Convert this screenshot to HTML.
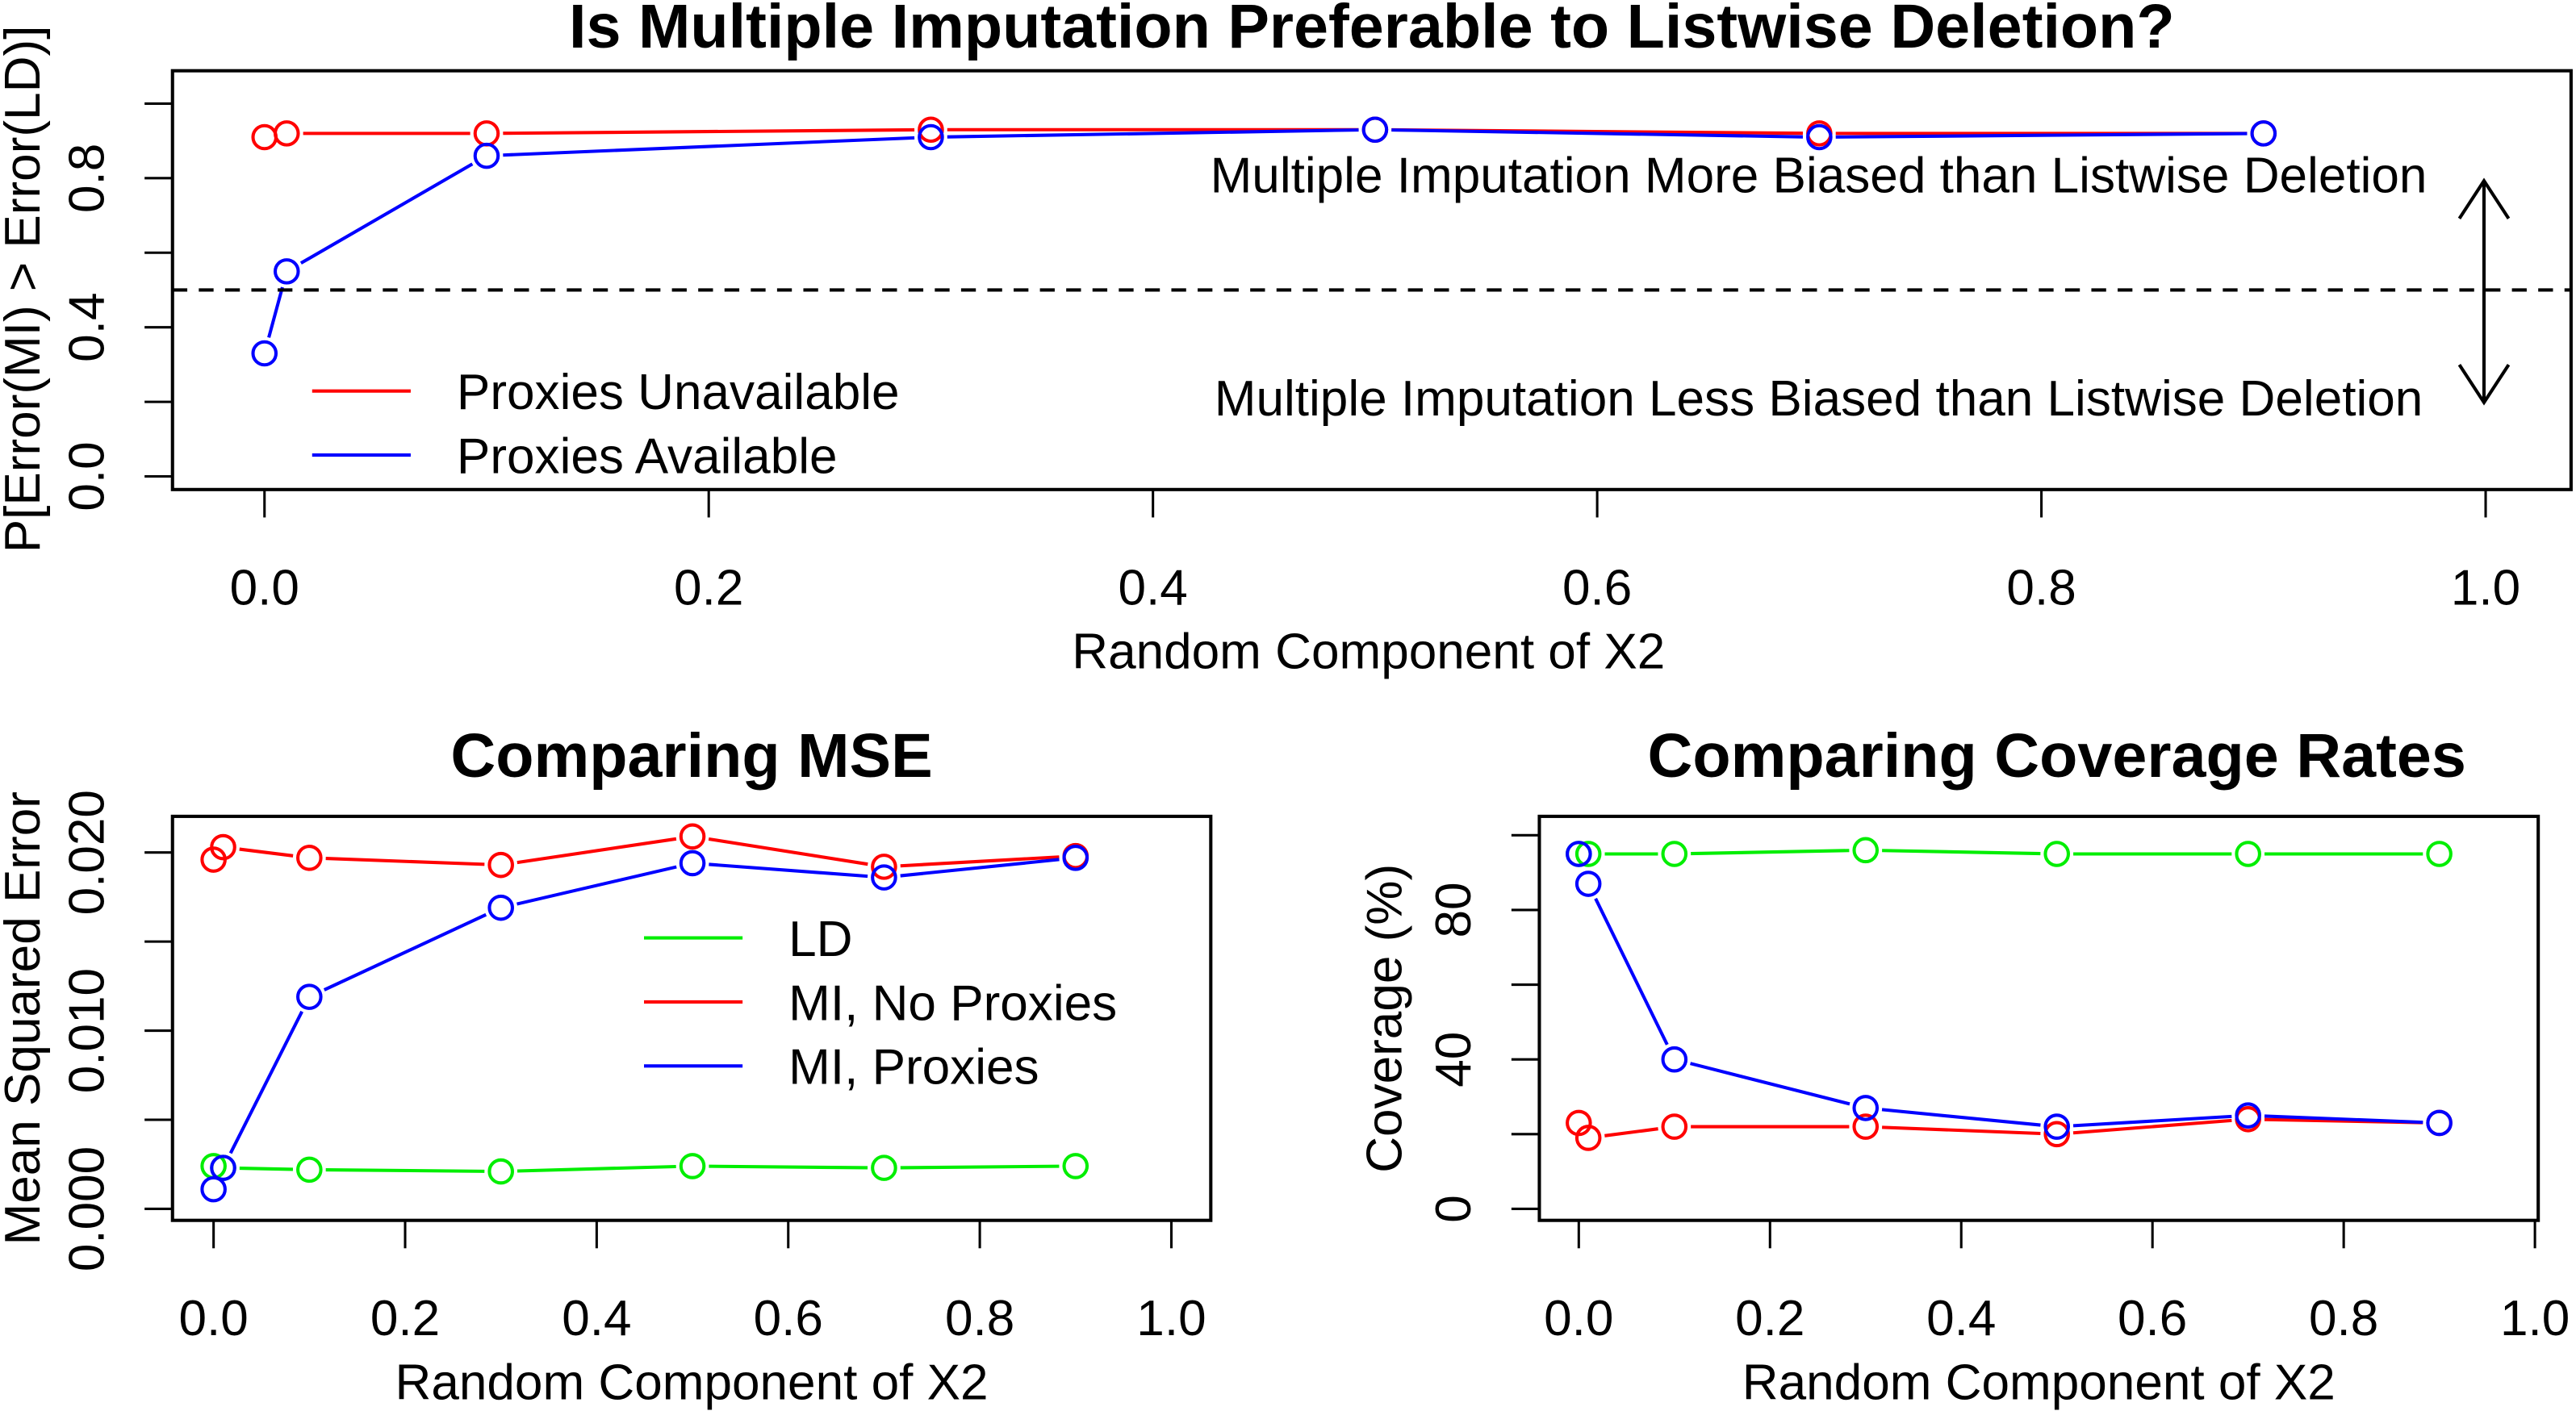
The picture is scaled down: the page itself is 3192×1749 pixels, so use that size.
<!DOCTYPE html>
<html><head><meta charset="utf-8"><style>
html,body{margin:0;padding:0;background:#fff}
svg{display:block}
text{font-family:"Liberation Sans",Arial,sans-serif;fill:#000}
</style></head><body>
<svg id="c" width="3192" height="1749" viewBox="0 0 1568 859" xmlns="http://www.w3.org/2000/svg"></svg>
<script>
const xVals=[0,0.01,0.1,0.3,0.5,0.7,0.9];
const topRed=[0.91,0.92,0.92,0.93,0.93,0.92,0.92];
const topBlue=[0.33,0.55,0.86,0.91,0.93,0.91,0.92];
const mseLD=[0.0024,0.0023,0.0022,0.0021,0.0024,0.0023,0.0024];
const mseNoProx=[0.0196,0.0203,0.0197,0.0193,0.0209,0.0192,0.0198];
const mseProx=[0.0011,0.0023,0.0119,0.0169,0.0194,0.0186,0.0197];
const covLD=[95,95,95,96,95,95,95];
const covProx=[95,87,40,27,22,25,23];
const covNoProx=[23,19,22,22,20,24,23];
const xTicks=[0,0.2,0.4,0.6,0.8,1.0];
const xTickLabels=["0.0","0.2","0.4","0.6","0.8","1.0"];

const FS=30.5, TFS=38;
const NS="http://www.w3.org/2000/svg";
const svg=document.getElementById('c');
function el(tag,attrs,parent){const e=document.createElementNS(NS,tag);for(const k in attrs)e.setAttribute(k,attrs[k]);(parent||svg).appendChild(e);return e;}
function txt(s,x,y,size,opts,parent){const t=el('text',Object.assign({x:x,y:y,'font-size':size,'text-anchor':'middle'},opts||{}),parent);t.textContent=s;return t;}

function panel(cfg){
  const g=el('g',{});
  
  
  const sx=v=>cfg.x0+(v-cfg.xmin)*(cfg.x1-cfg.x0)/(cfg.xmax-cfg.xmin);
  const sy=v=>cfg.y0+(v-cfg.ymin)*(cfg.y1-cfg.y0)/(cfg.ymax-cfg.ymin);
  const b=cfg.box;
  const r=el('rect',{x:b[0],y:b[1],width:b[2]-b[0],height:b[3]-b[1],fill:'none',stroke:'#000','stroke-width':2},g);
  
  
  const xa=el('g',{},g);
  
  
  el('line',{x1:sx(xTicks[0]),x2:sx(xTicks[xTicks.length-1]),y1:b[3],y2:b[3],stroke:'#000','stroke-width':1.5},xa);
  xTicks.forEach((t,i)=>{el('line',{x1:sx(t),x2:sx(t),y1:b[3],y2:b[3]+17,stroke:'#000','stroke-width':1.5},xa);
    const l=txt(xTickLabels[i],sx(t),b[3]+70,FS,{},xa);
    
    });
  const xl=txt('Random Component of X2',(b[0]+b[2])/2+cfg.xlOff,b[3]+109,FS,{},g);
  
  
  const ya=el('g',{},g);
  
  
  el('line',{x1:b[0],x2:b[0],y1:sy(cfg.yTicks[0]),y2:sy(cfg.yTicks[cfg.yTicks.length-1]),stroke:'#000','stroke-width':1.5},ya);
  cfg.yTicks.forEach((t,i)=>{el('line',{x1:b[0]-17,x2:b[0],y1:sy(t),y2:sy(t),stroke:'#000','stroke-width':1.5},ya);
    if(cfg.yLabels[i]){const yy=sy(t);const xx=b[0]-52;
      const l=txt(cfg.yLabels[i],xx,yy,FS,{transform:`rotate(-90 ${xx} ${yy})`,'dominant-baseline':'central'},ya);
      
      }});
  const yt=txt(cfg.ylab,cfg.ylx,cfg.yly,FS,{transform:`rotate(-90 ${cfg.ylx} ${cfg.yly})`},g);
  
  
  const ti=txt(cfg.title,cfg.tx,cfg.ty,TFS,{'font-weight':'bold'},g);
  
  
  cfg.series.forEach(s=>{
    const sg=el('g',{},g);
    
    
    const pts=xVals.map((x,i)=>[sx(x),sy(s.data[i])]);
    const R=7,gap=3;
    for(let i=0;i<pts.length-1;i++){const [ax,ay]=pts[i],[bx,by]=pts[i+1];const dx=bx-ax,dy=by-ay,d=Math.hypot(dx,dy);
      if(d>2*(R+gap)){const ux=dx/d,uy=dy/d;el('line',{x1:ax+ux*(R+gap),y1:ay+uy*(R+gap),x2:bx-ux*(R+gap),y2:by-uy*(R+gap),stroke:s.color,'stroke-width':2},sg);}}
    pts.forEach(p=>{const c=el('circle',{cx:p[0],cy:p[1],r:R,fill:'none',stroke:s.color,'stroke-width':2},sg);
      
      });
  });
  return {g,sx,sy};
}

const topP=panel({name:'top-chart',box:[105,43,1565,298],x0:161,x1:1513,xmin:0,xmax:1,y0:290,y1:63,ymin:0,ymax:1,
  yTicks:[0,0.2,0.4,0.6,0.8,1.0],yLabels:["0.0","","0.4","","0.8",""],
  ylab:'P[Error(MI) > Error(LD)]',ylx:24,yly:176,title:'Is Multiple Imputation Preferable to Listwise Deletion?',tx:835,ty:29,xlOff:-2,
  series:[{name:'series-proxies-unavailable',color:'#ff0000',data:topRed},{name:'series-proxies-available',color:'#0000ff',data:topBlue}]});
const dl=el('line',{x1:105,x2:1565,y1:topP.sy(0.5),y2:topP.sy(0.5),stroke:'#000','stroke-width':2,'stroke-dasharray':'9,7'},topP.g);


let a=txt('Multiple Imputation More Biased than Listwise Deletion',1107,117,FS,{},topP.g);


a=txt('Multiple Imputation Less Biased than Listwise Deletion',1107,253,FS,{},topP.g);


const ar=el('g',{fill:'none',stroke:'#000','stroke-width':2},topP.g);


el('line',{x1:1512,x2:1512,y1:110,y2:245},ar);el('polyline',{points:'1497,133 1512,110 1527,133'},ar);el('polyline',{points:'1497,222 1512,245 1527,222'},ar);
function legend(g,items,lx,tx,ys){items.forEach((it,i)=>{const lg=el('g',{},g);
  
  
  el('line',{x1:lx,x2:lx+60,y1:ys[i],y2:ys[i],stroke:it[1],'stroke-width':2},lg);txt(it[0],tx,ys[i]+11,FS,{'text-anchor':'start'},lg);});}
legend(topP.g,[['Proxies Unavailable','#ff0000'],['Proxies Available','#0000ff']],190,278,[238,277]);

const mse=panel({name:'mse-chart',box:[105,497,737,743],x0:130,x1:713,xmin:0,xmax:1,y0:736,y1:519,ymin:0,ymax:0.02,
  yTicks:[0,0.005,0.01,0.015,0.02],yLabels:["0.000","","0.010","","0.020"],ylab:'Mean Squared Error',ylx:24,yly:620,
  title:'Comparing MSE',tx:421,ty:473,xlOff:0,
  series:[{name:'series-ld',color:'#00ee00',data:mseLD},{name:'series-mi-no-proxies',color:'#ff0000',data:mseNoProx},{name:'series-mi-proxies',color:'#0000ff',data:mseProx}]});
legend(mse.g,[['LD','#00ee00'],['MI, No Proxies','#ff0000'],['MI, Proxies','#0000ff']],392,480,[571,610,649]);

const cov=panel({name:'coverage-chart',box:[937,497,1545,743],x0:961,x1:1543,xmin:0,xmax:1,y0:736,y1:554,ymin:0,ymax:80,
  yTicks:[0,20,40,60,80,100],yLabels:["0","","40","","80",""],ylab:'Coverage (%)',ylx:853,yly:620,
  title:'Comparing Coverage Rates',tx:1252,ty:473,xlOff:0,
  series:[{name:'series-ld',color:'#00ee00',data:covLD},{name:'series-mi-no-proxies',color:'#ff0000',data:covNoProx},{name:'series-mi-proxies',color:'#0000ff',data:covProx}]});
</script>
</body></html>
